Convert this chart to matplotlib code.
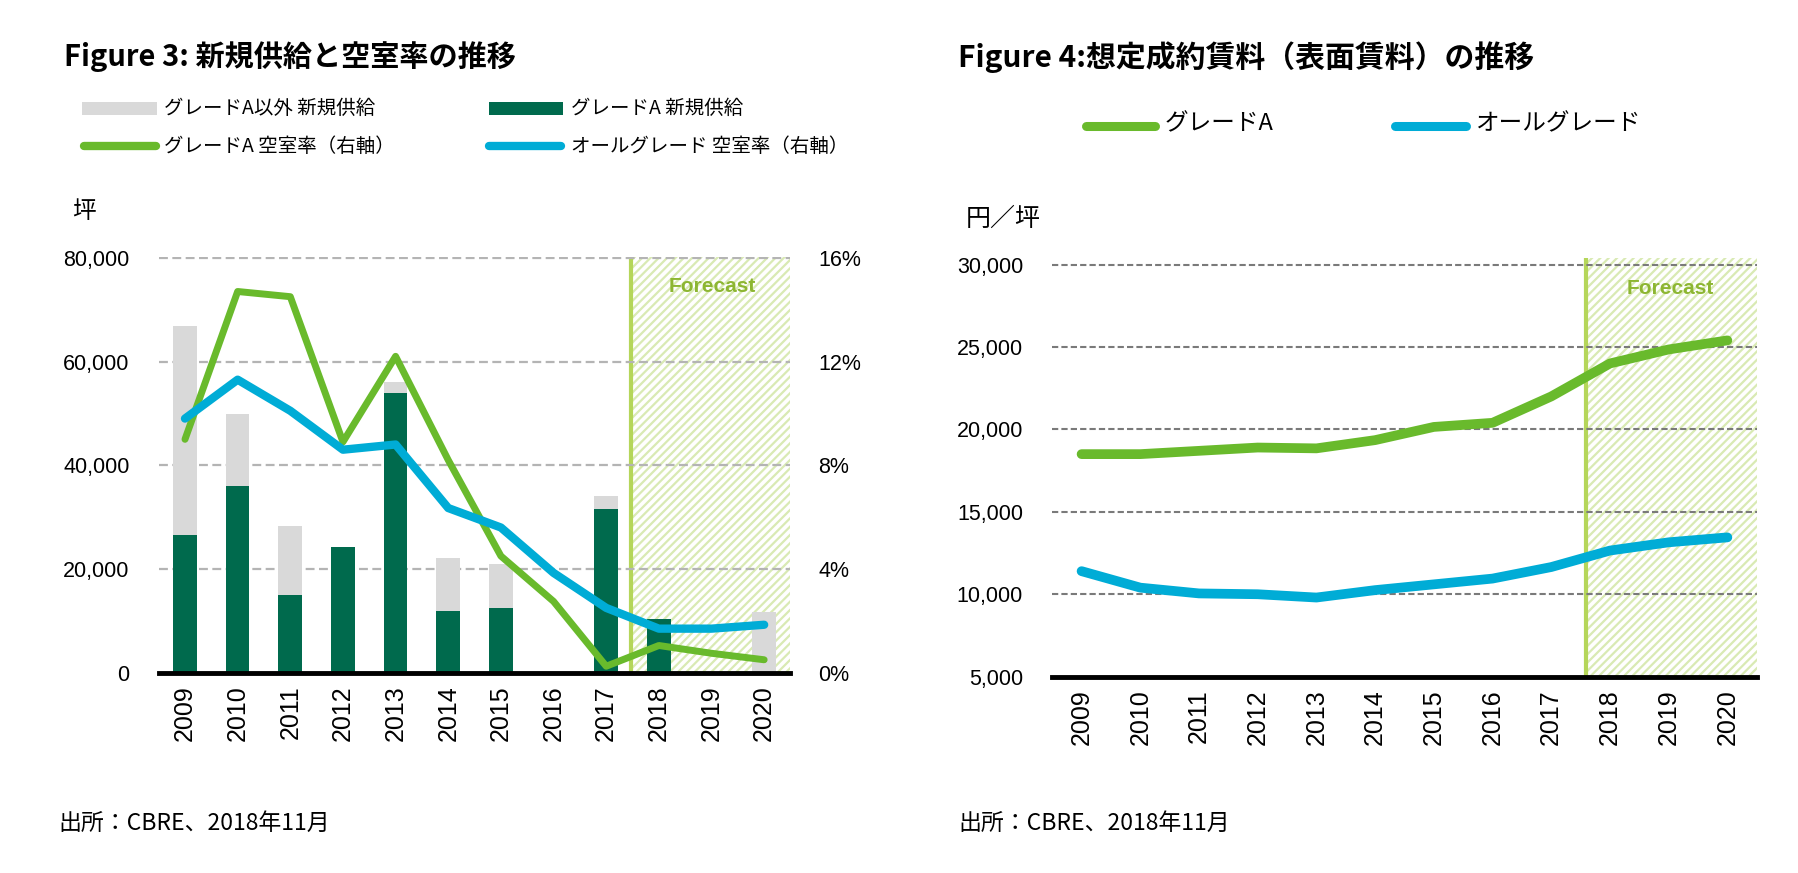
"""Office supply / vacancy and rent charts (Figure 3 and Figure 4) as one PNG."""

import matplotlib
matplotlib.use("Agg")
import matplotlib.pyplot as plt
from matplotlib.lines import Line2D
from matplotlib.patches import Rectangle
from matplotlib.ticker import FuncFormatter

JP = ["Noto Sans CJK JP", "DejaVu Sans"]
PLAIN = ["Liberation Sans", "DejaVu Sans"]

GREEN = "#69ba2c"
BLUE = "#00acd6"
DARK = "#006a4d"
GRAY = "#d9d9d9"
FC_LINE = "#b5d65a"
FC_HATCH = "#d9eab4"
FC_TEXT = "#8db632"

YEARS = [str(y) for y in range(2009, 2021)]

# Figure 3: new supply (tsubo) and vacancy rate (%)
SUPPLY_A = [26500, 36000, 15000, 24300, 54000, 11900, 12500, 0, 31600, 10300, 0, 0]
SUPPLY_OTHER = [40400, 13900, 13300, 0, 2100, 10300, 8500, 0, 2500, 0, 0, 11700]
VACANCY_A = [9.0, 14.7, 14.5, 8.9, 12.2, 8.2, 4.5, 2.75, 0.25, 1.05, 0.75, 0.5]
VACANCY_ALL = [9.8, 11.3, 10.1, 8.6, 8.8, 6.35, 5.6, 3.85, 2.5, 1.7, 1.7, 1.85]

# Figure 4: assumed contract rent (yen / tsubo)
RENT_A = [18500, 18500, 18700, 18900, 18850, 19350, 20150, 20400, 22000, 24000, 24850, 25400]
RENT_ALL = [11400, 10400, 10050, 10000, 9800, 10250, 10600, 10950, 11650, 12650, 13150, 13450]

W, H = 1799, 873
TICK_SIZE = 15.5


def fx(px):
    return px / W


def fy(py):
    return 1 - py / H


def _forecast(ax, start, text_y):
    ax.axvspan(start, 11.5, facecolor="white", edgecolor=FC_HATCH, hatch="////",
               linewidth=0, zorder=0.2)
    ax.axvline(start, color=FC_LINE, linewidth=3, zorder=0.3)
    ax.text(10.02, text_y, "Forecast", family=PLAIN, fontweight="bold",
            fontsize=15, color=FC_TEXT, ha="center", va="center", zorder=5)


def _style(ax, fmt):
    for side in ("top", "left", "right"):
        ax.spines[side].set_visible(False)
    ax.spines["bottom"].set_linewidth(3.5)
    ax.spines["bottom"].set_color("black")
    ax.set_xlim(-0.5, 11.5)
    ax.set_xticks(range(len(YEARS)))
    ax.set_xticklabels(YEARS, rotation=90, family=PLAIN, fontsize=18)
    ax.tick_params(axis="x", length=0, pad=9)
    ax.tick_params(axis="y", length=0, pad=21, labelsize=TICK_SIZE)
    ax.yaxis.set_major_formatter(fmt)


def _tick_font(ax):
    for lab in ax.get_yticklabels():
        lab.set_family(PLAIN)


def plot_fig3(fig):
    ax = fig.add_axes([0.0882, 0.2294, 0.3512, 0.4765])
    x = range(len(YEARS))
    ax.bar(x, SUPPLY_A, width=0.45, color=DARK, zorder=2)
    ax.bar(x, SUPPLY_OTHER, width=0.45, bottom=SUPPLY_A, color=GRAY, zorder=2)
    ax.set_ylim(0, 80200)
    ax.set_yticks([0, 20000, 40000, 60000, 80000])
    ax.set_axisbelow(True)
    ax.yaxis.grid(True, color="#b4b4b4", linestyle=(0, (4, 2)), linewidth=1.6)
    _style(ax, FuncFormatter(lambda v, p: f"{v:,.0f}"))
    _forecast(ax, 8.47, 74400)
    _tick_font(ax)

    axr = ax.twinx()
    axr.set_ylim(0, 16.04)
    axr.set_yticks([0, 4, 8, 12, 16])
    axr.yaxis.set_major_formatter(FuncFormatter(lambda v, p: f"{v:.0f}%"))
    axr.tick_params(axis="y", length=0, pad=20, labelsize=TICK_SIZE)
    _tick_font(axr)
    for side in ("top", "left", "right", "bottom"):
        axr.spines[side].set_visible(False)
    axr.plot(x, VACANCY_A, color=GREEN, linewidth=5, solid_capstyle="round",
             solid_joinstyle="round")
    axr.plot(x, VACANCY_ALL, color=BLUE, linewidth=6, solid_capstyle="round",
             solid_joinstyle="round")

    fig.text(fx(64), fy(57), "Figure 3: 新規供給と空室率の推移", family=JP,
             fontweight="bold", fontsize=21, va="center")
    fig.text(fx(72), fy(212), "坪", family=JP, fontsize=17, va="center")
    fig.text(fx(58), fy(823), "出所：CBRE、2018年11月", family=JP, fontsize=16.5,
             va="center")

    # legend
    fig.add_artist(Rectangle((fx(82.5), fy(114.5)), fx(74.5), 13 / H,
                             facecolor=GRAY, edgecolor="none"))
    fig.add_artist(Rectangle((fx(489), fy(114.5)), fx(74), 13 / H,
                             facecolor=DARK, edgecolor="none"))
    fig.add_artist(Line2D([fx(84), fx(156)], [fy(146), fy(146)], color=GREEN,
                          linewidth=6, solid_capstyle="round"))
    fig.add_artist(Line2D([fx(489), fx(561)], [fy(146), fy(146)], color=BLUE,
                          linewidth=6, solid_capstyle="round"))
    for px, py, label in [(164, 108, "グレードA以外 新規供給"),
                          (571, 108, "グレードA 新規供給"),
                          (164, 146, "グレードA 空室率（右軸）"),
                          (571, 146, "オールグレード 空室率（右軸）")]:
        fig.text(fx(px), fy(py), label, family=JP, fontsize=14, va="center")


def plot_fig4(fig):
    ax = fig.add_axes([0.5849, 0.2249, 0.3916, 0.4796])
    x = range(len(YEARS))
    ax.set_ylim(5000, 30400)
    ax.set_yticks([5000, 10000, 15000, 20000, 25000, 30000])
    ax.set_axisbelow(True)
    ax.yaxis.grid(True, color="#7a7a7a", linestyle=(0, (3, 1.5)), linewidth=1.5)
    _style(ax, FuncFormatter(lambda v, p: f"{v:,.0f}"))
    _forecast(ax, 8.59, 28540)
    ax.plot(x, RENT_A, color=GREEN, linewidth=7, solid_capstyle="round",
            solid_joinstyle="round", zorder=3)
    ax.plot(x, RENT_ALL, color=BLUE, linewidth=7, solid_capstyle="round",
            solid_joinstyle="round", zorder=3)
    _tick_font(ax)

    fig.text(fx(958), fy(57), "Figure 4:想定成約賃料（表面賃料）の推移", family=JP,
             fontweight="bold", fontsize=21.5, va="center")
    fig.text(fx(966), fy(219), "円／坪", family=JP, fontsize=18, va="center")
    fig.text(fx(958), fy(823), "出所：CBRE、2018年11月", family=JP, fontsize=16.5,
             va="center")

    fig.add_artist(Line2D([fx(1086), fx(1155)], [fy(126), fy(126)], color=GREEN,
                          linewidth=6.5, solid_capstyle="round"))
    fig.add_artist(Line2D([fx(1395), fx(1466)], [fy(126), fy(126)], color=BLUE,
                          linewidth=6.5, solid_capstyle="round"))
    fig.text(fx(1165), fy(124), "グレードA", family=JP, fontsize=17, va="center")
    fig.text(fx(1476), fy(124), "オールグレード", family=JP, fontsize=17, va="center")


def main():
    plt.rcParams["hatch.linewidth"] = 1.6
    fig = plt.figure(figsize=(W / 100, H / 100), dpi=100)
    plot_fig3(fig)
    plot_fig4(fig)
    fig.savefig("out.png", dpi=100)
    plt.close(fig)


if __name__ == "__main__":
    main()
